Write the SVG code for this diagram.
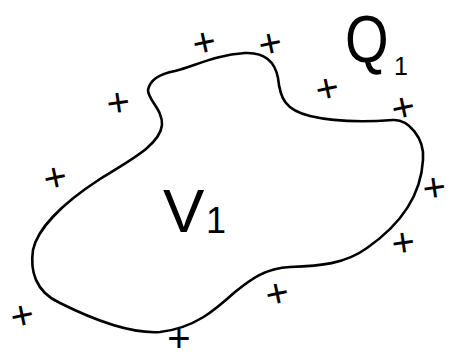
<svg xmlns="http://www.w3.org/2000/svg" width="453" height="360" viewBox="0 0 453 360">
<style>
.outline{fill:none;stroke:#000;stroke-width:2.6;stroke-linecap:round;stroke-linejoin:round}
.plus{font-family:"Liberation Sans",Arial,sans-serif;font-size:40px;fill:#000;text-anchor:middle}
.lbl{font-family:"Liberation Sans",Arial,sans-serif;fill:#000}
</style>
<rect width="453" height="360" fill="#fff"/>
<g id="region">
<path class="outline" d="M148,90 C150,80 158,74 175,71 C195,66 215,55 245,53 C265,52 275,62 278,78 C280,98 285,110 310,116 C335,122 365,122 393,120 C408,119 425,138 423,160 C421,195 400,225 367,248 C345,264 320,266 290,267 C265,268 250,280 235,292 C215,310 195,328 160,332 C130,334 90,318 60,303 C35,292 30,270 33,250 C37,230 60,205 100,179 C130,160 160,145 162,125 C163,110 148,100 148,90 Z"/>
</g>
<g id="label-V1">
<text class="lbl"><tspan x="163" y="232" font-size="62">V</tspan><tspan x="206" y="233" font-size="36">1</tspan></text>
</g>
<g id="label-Q1">
<text class="lbl" transform="translate(345,62) scale(0.85,1)"><tspan x="0" y="0" font-size="66">Q</tspan></text>
<text class="lbl" x="394" y="75" font-size="25">1</text>
</g>
<g id="charges">
<text class="plus" transform="translate(204,42) rotate(-12)" y="14">+</text>
<text class="plus" transform="translate(270,43) rotate(-12)" y="14">+</text>
<text class="plus" transform="translate(118,102) rotate(-8)" y="14">+</text>
<text class="plus" transform="translate(327,88) rotate(-12)" y="14">+</text>
<text class="plus" transform="translate(403,107) rotate(-12)" y="14">+</text>
<text class="plus" transform="translate(55,177) rotate(-12)" y="14">+</text>
<text class="plus" transform="translate(434,187) rotate(-8)" y="14">+</text>
<text class="plus" transform="translate(403,242) rotate(-8)" y="14">+</text>
<text class="plus" transform="translate(277,293) rotate(-12)" y="14">+</text>
<text class="plus" transform="translate(22,315) rotate(-12)" y="14">+</text>
<text class="plus" transform="translate(179,340)" y="12" font-size="34">+</text>
</g>
</svg>
